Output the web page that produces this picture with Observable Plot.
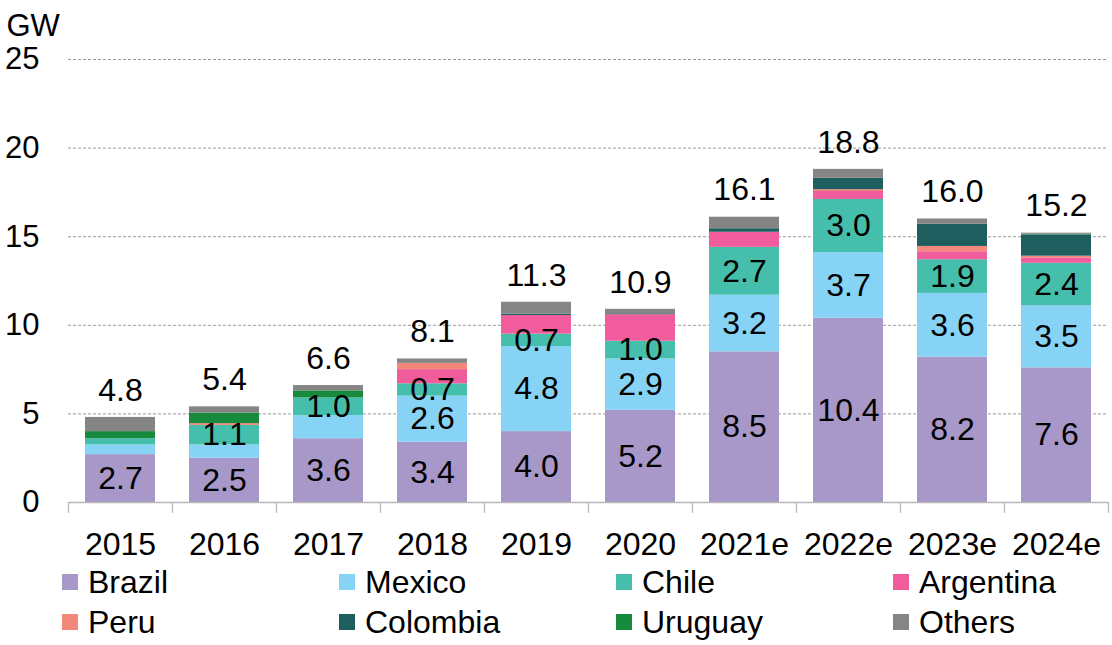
<!DOCTYPE html>
<html>
<head>
<meta charset="utf-8">
<script src="https://cdn.jsdelivr.net/npm/d3@7"></script>
<script src="https://cdn.jsdelivr.net/npm/@observablehq/plot@0.6"></script>
<style>
  body { margin: 0; background: #fff; font-family: "Liberation Sans", Arial, sans-serif; }
  #wrap { position: relative; width: 1112px; height: 645px; overflow: hidden; }
  #chart svg { overflow: visible; }
  #legend { position: absolute; left: 62px; top: 562px; display: grid; grid-template-columns: repeat(4, 277px); }
  .item { display: flex; align-items: center; height: 40px; font-size: 32px; color: #000; }
  .sw { width: 16px; height: 16px; margin-right: 10px; flex: none; }
</style>
</head>
<body>
<div id="wrap"><div id="chart"></div><div id="legend"></div></div>
<script>
const years = ["2015","2016","2017","2018","2019","2020","2021e","2022e","2023e","2024e"];
const seriesNames = ["Brazil","Mexico","Chile","Argentina","Peru","Colombia","Uruguay","Others"];
const colors = ["#A898C9","#87D3F6","#45BFAB","#F05C9C","#F3877A","#1F5E5F","#188A3E","#858585"];
const Brazil    = [2.7, 2.5, 3.6, 3.4, 4.0, 5.2, 8.5, 10.4, 8.2, 7.6];
const Mexico    = [0.55, 0.75, 1.3, 2.6, 4.8, 2.9, 3.2, 3.7, 3.6, 3.5];
const Chile     = [0.35, 1.1, 1.0, 0.7, 0.7, 1.0, 2.7, 3.0, 1.9, 2.4];
const Argentina = [0, 0, 0, 0.8, 1.05, 1.5, 0.85, 0.45, 0.45, 0.3];
const Peru      = [0, 0.1, 0, 0.35, 0, 0, 0, 0.1, 0.3, 0.1];
const Colombia  = [0, 0, 0, 0, 0.08, 0.05, 0.2, 0.65, 1.25, 1.2];
const Uruguay   = [0.4, 0.6, 0.4, 0, 0, 0, 0, 0, 0, 0.04];
const Others    = [0.8, 0.35, 0.3, 0.25, 0.67, 0.25, 0.65, 0.5, 0.3, 0.06];
const BrazilLabels = ["2.7","2.5","3.6","3.4","4.0","5.2","8.5","10.4","8.2","7.6"];
const MexicoLabels = ["","","","2.6","4.8","2.9","3.2","3.7","3.6","3.5"];
const ChileLabels  = ["","1.1","1.0","0.7","0.7","1.0","2.7","3.0","1.9","2.4"];
const totals      = [4.8, 5.4, 6.6, 8.1, 11.3, 10.9, 16.1, 18.8, 16.0, 15.2];
const totalLabels = ["4.8","5.4","6.6","8.1","11.3","10.9","16.1","18.8","16.0","15.2"];
const yTicks = [0, 5, 10, 15, 20, 25];

const values = [Brazil, Mexico, Chile, Argentina, Peru, Colombia, Uruguay, Others];
const labelsBy = {Brazil: BrazilLabels, Mexico: MexicoLabels, Chile: ChileLabels};
const rows = [];
seriesNames.forEach((s, si) => {
  years.forEach((yr, i) => {
    rows.push({year: yr, series: s, value: values[si][i], label: labelsBy[s] ? labelsBy[s][i] : ""});
  });
});
const totalRows = years.map((yr, i) => ({year: yr, total: totals[i], label: totalLabels[i]}));

const width = 1112, mL = 68, mR = 4;
const step = (width - mL - mR) / years.length;

const chart = Plot.plot({
  width, height: 580,
  marginLeft: mL, marginRight: mR, marginTop: 59, marginBottom: 78,
  style: {fontFamily: "'Liberation Sans', Arial, sans-serif", background: "transparent", overflow: "visible"},
  x: {domain: years, paddingInner: 0.33, paddingOuter: 0.165, label: null},
  y: {domain: [0, 25], label: null},
  color: {domain: seriesNames, range: colors},
  marks: [
    Plot.gridY([5, 10, 15, 20, 25], {stroke: "#9a9a9a", strokeOpacity: 1, strokeDasharray: "3,2"}),
    Plot.barY(rows, Plot.stackY({x: "year", y: "value", fill: "series", z: "series"})),
    Plot.text(rows, Plot.stackY({x: "year", y: "value", z: "series", text: "label", fontSize: 32, fill: "#000", lineAnchor: "middle"})),
    Plot.text(totalRows, {x: "year", y: "total", text: "label", dy: -27, fontSize: 32, fill: "#000", lineAnchor: "middle"}),
    Plot.ruleY([0], {stroke: "#b8b8b8", strokeWidth: 1.3}),
    Plot.ruleX(years, {x: d => d, dx: -step / 2, y1: 0, y2: -0.62, stroke: "#b8b8b8", strokeWidth: 1.3}),
    Plot.ruleX([years[years.length - 1]], {x: d => d, dx: step / 2, y1: 0, y2: -0.62, stroke: "#b8b8b8", strokeWidth: 1.3}),
    Plot.axisY(yTicks, {tickSize: 0, tickPadding: 29, fontSize: 31, fill: "#000", label: null}),
    Plot.axisX({tickSize: 0, tickPadding: 30, fontSize: 32, fill: "#000", label: null}),
    Plot.text(["GW"], {frameAnchor: "top-left", textAnchor: "start", lineAnchor: "middle", dx: -62, dy: -33, fontSize: 31, fill: "#000"})
  ]
});
document.getElementById("chart").appendChild(chart);

const legend = document.getElementById("legend");
seriesNames.forEach((s, i) => {
  const it = document.createElement("div");
  it.className = "item";
  it.innerHTML = `<span class="sw" style="background:${colors[i]}"></span><span>${s}</span>`;
  legend.appendChild(it);
});
</script>
</body>
</html>
